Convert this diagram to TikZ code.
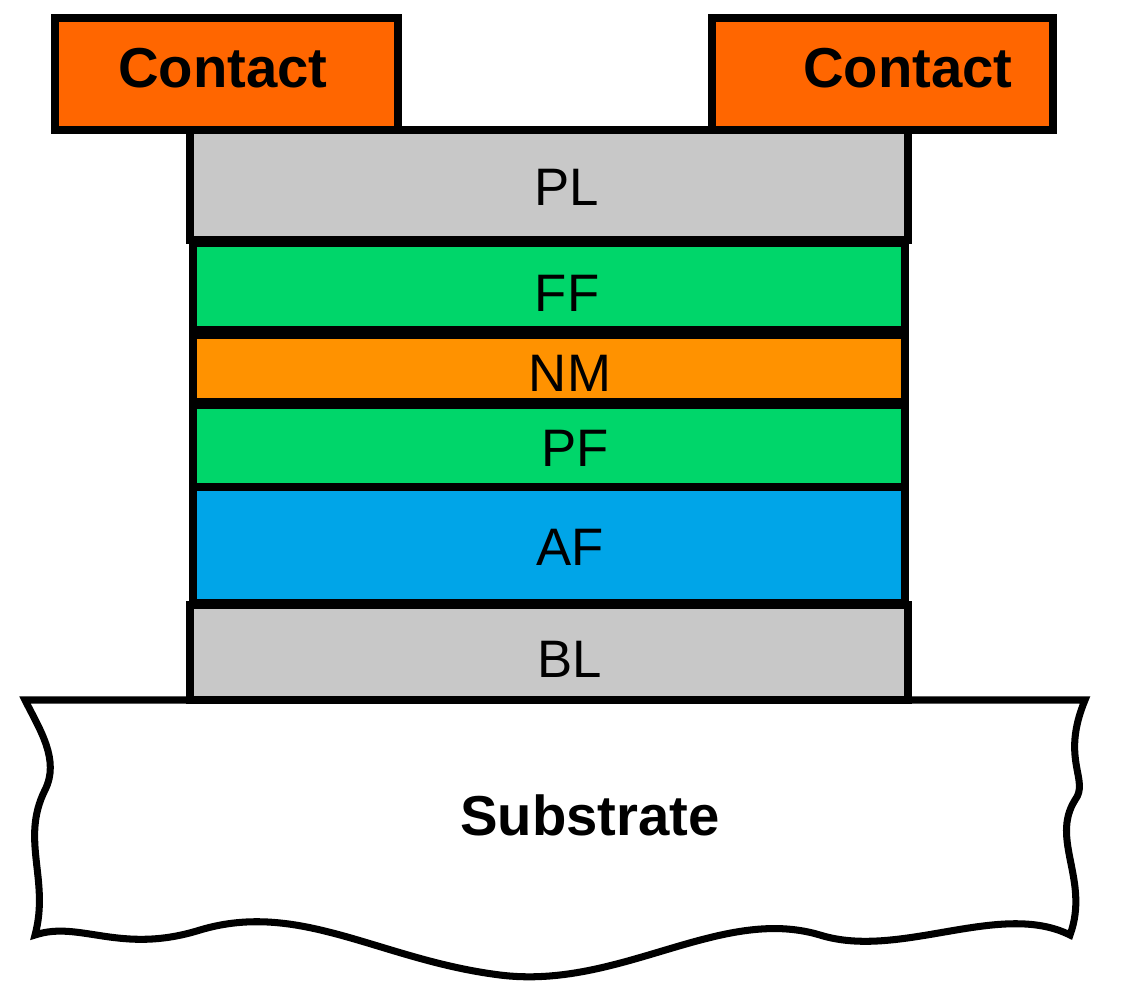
\documentclass[tikz,border=0pt]{standalone}
\usepackage{fontspec}
\setmainfont{Liberation Sans}
\definecolor{stackgray}{HTML}{C8C8C8}
\definecolor{stackgreen}{HTML}{00D66A}
\definecolor{stackorange}{HTML}{FF9200}
\definecolor{stackblue}{HTML}{00A5E8}
\definecolor{contactorange}{HTML}{FF6600}
\tikzset{
  layer/.style={draw=black, line width=2.5pt},
  lbl/.style={font=\fontsize{15}{18}\selectfont},
  blbl/.style={font=\fontsize{16}{19}\selectfont\bfseries}
}
\begin{document}
\begin{tikzpicture}[x=0.01cm, y=-0.01cm]
            \useasboundingbox (0,0) rectangle (1125,1003);

            % Substrate
            \draw[layer, line width=2pt, fill=white] (25,700) -- (1085,700)
              .. controls (1060,760) and (1090,780) .. (1075,800)
              .. controls (1050,840) and (1090,880) .. (1070,935)
              .. controls (1000,900) and (900,960) .. (820,935)
              .. controls (720,905) and (620,990) .. (500,975)
              .. controls (380,960) and (300,900) .. (200,930)
              .. controls (120,955) and (80,920) .. (35,935)
              .. controls (50,880) and (20,840) .. (45,790)
              .. controls (60,760) and (40,730) .. (25,700) -- cycle;
            \node[blbl] (sub) at (590,815) {Substrate};

            % Layer stack
            \draw[layer, fill=stackgray] (190,130) rectangle (908,240);
            \draw[layer, fill=stackgreen] (193,243) rectangle (905,330);
            \draw[layer, fill=stackorange] (193,335) rectangle (905,402);
            \draw[layer, fill=stackgreen] (193,405) rectangle (905,487);
            \draw[layer, fill=stackblue] (193,487) rectangle (905,603);
            \draw[layer, fill=stackgray] (190,605) rectangle (908,700);
            \node[lbl] (pl) at (567,187) {PL};
            \node[lbl] (ff) at (567,293) {FF};
            \node[lbl] (nm) at (570,373) {NM};
            \node[lbl] (pf) at (575,448) {PF};
            \node[lbl] (af) at (570,547) {AF};
            \node[lbl] (bl) at (570,659) {BL};

            % Contacts
            \draw[layer, fill=contactorange] (55,18) rectangle (398,130);
            \draw[layer, fill=contactorange] (712,18) rectangle (1053,130);
            \node[blbl] (cl) at (223,68) {Contact};
            \node[blbl] (cr) at (908,68) {Contact};
        \end{tikzpicture}
\end{document}
